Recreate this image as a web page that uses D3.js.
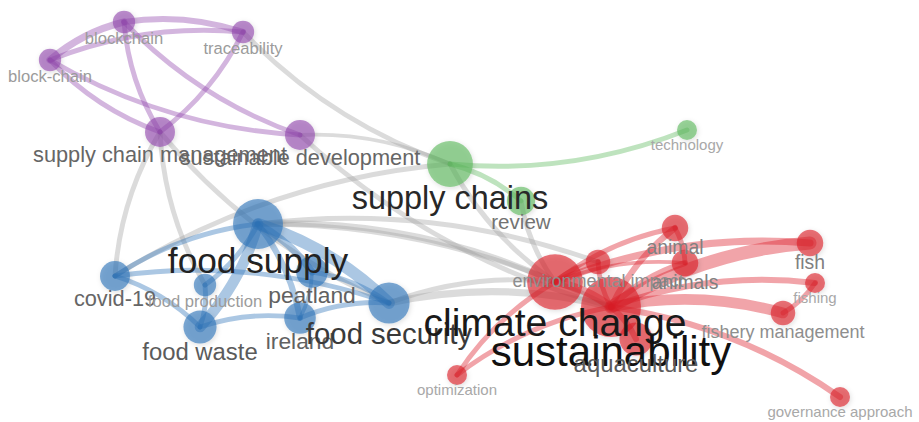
<!DOCTYPE html>
<html>
<head>
<meta charset="utf-8">
<script src="https://cdn.jsdelivr.net/npm/d3@7"></script>
<style>
    body { margin: 0; background: #fff; }
    .label { font-family: 'Liberation Sans', Arial, sans-serif; text-anchor: middle; }
</style>
</head>
<body>
<div class="keyword-map"></div>
<script>
// Map data (layout coordinates, occurrences, clusters).
let labels = ['blockchain', 'block-chain', 'traceability', 'supply chain management', 'sustainable development',
    'supply chains', 'review', 'technology',
    'food supply', 'covid-19', 'food production', 'food waste', 'peatland', 'ireland', 'food security',
    'climate change', 'sustainability', 'environmental impact', 'aquaculture', 'animal', 'animals',
    'fish', 'fishing', 'fishery management', 'optimization', 'governance approach'];

let clusters = [4, 4, 4, 4, 4,
    2, 2, 2,
    3, 3, 3, 3, 3, 3, 3,
    1, 1, 1, 1, 1, 1, 1, 1, 1, 1, 1];

let layoutX = [-3.21, -3.95, -2.02, -2.85, -1.45,
    0.05, 0.76, 2.42,
    -1.87, -3.30, -2.40, -2.45, -1.33, -1.45, -0.56,
    1.10, 1.66, 1.53, 1.91, 2.30, 2.40, 3.65, 3.70, 3.38, 0.12, 3.95];

let layoutY = [-1.88, -1.50, -1.78, -0.78, -0.75,
    -0.46, -0.09, -0.80,
    0.14, 0.66, 0.75, 1.17, 0.62, 1.08, 0.93,
    0.72, 0.97, 0.52, 1.29, 0.18, 0.53, 0.33, 0.73, 1.03, 1.65, 1.87];

let occurrences = [5, 5, 5, 9, 9,
    21, 8, 4,
    25, 9, 5, 11, 10, 10, 17,
    31, 36, 6, 11, 7, 7, 7, 4, 6, 4, 4];

// Links: [source, target, strength].
let links = [
    ['block-chain', 'blockchain', 5],
    ['block-chain', 'traceability', 3],
    ['blockchain', 'traceability', 4],
    ['supply chain management', 'block-chain', 3],
    ['sustainable development', 'block-chain', 3],
    ['supply chain management', 'blockchain', 3],
    ['sustainable development', 'blockchain', 3],
    ['traceability', 'supply chain management', 3],
    ['supply chains', 'traceability', 3],
    ['sustainability', 'sustainable development', 3],
    ['covid-19', 'supply chain management', 3],
    ['food production', 'supply chain management', 3],
    ['food security', 'supply chain management', 3],
    ['covid-19', 'supply chains', 3],
    ['sustainable development', 'supply chains', 2],
    ['climate change', 'supply chains', 3],
    ['climate change', 'review', 3],
    ['food supply', 'environmental impact', 3],
    ['food supply', 'climate change', 4],
    ['food supply', 'sustainability', 3],
    ['food security', 'sustainability', 5],
    ['food security', 'climate change', 3],
    ['technology', 'supply chains', 3],
    ['supply chains', 'review', 3],
    ['covid-19', 'food supply', 3],
    ['food supply', 'food waste', 8],
    ['food supply', 'food production', 3],
    ['food supply', 'peatland', 5],
    ['food supply', 'ireland', 4],
    ['food supply', 'food security', 9],
    ['covid-19', 'food waste', 3],
    ['covid-19', 'food security', 3],
    ['food production', 'food waste', 3],
    ['food waste', 'ireland', 3],
    ['ireland', 'food security', 3],
    ['peatland', 'food security', 3],
    ['peatland', 'ireland', 2],
    ['sustainability', 'fish', 10],
    ['climate change', 'fish', 5],
    ['sustainability', 'animals', 4],
    ['sustainability', 'animal', 4],
    ['climate change', 'animal', 3],
    ['climate change', 'animals', 2],
    ['sustainability', 'fishing', 4],
    ['sustainability', 'fishery management', 8],
    ['sustainability', 'governance approach', 4],
    ['optimization', 'sustainability', 3],
    ['optimization', 'climate change', 3],
    ['sustainability', 'aquaculture', 4],
    ['climate change', 'environmental impact', 4],
    ['sustainability', 'environmental impact', 3],
    ['climate change', 'sustainability', 6],
    ['animal', 'animals', 3],
    ['fishing', 'fishery management', 3]
];

// Build constants.
let width = 919,
    height = 422,
    bend = 0.12;

let clusterColor = {1: '#dc1c28', 2: '#5cb85c', 3: '#2c72b8', 4: '#9147ad'};

// Build nodes.
let nodes = labels.map((label, i) => ({
    id: label,
    cluster: clusters[i],
    vx: layoutX[i],
    vy: layoutY[i],
    weight: occurrences[i]
}));
let byId = new Map(nodes.map(d => [d.id, d]));

// Build scales.
let xScale = d3.scaleLinear().domain([-4.45, 4.74]).range([0, width]);
let yScale = d3.scaleLinear().domain([-2.10, 2.12]).range([0, height]);
let radiusScale = d3.scaleSqrt().domain([0, 36]).range([0, 30]);
let fontScale = d3.scaleLinear().domain([0, 30]).range([1.5, 42]);
let widthScale = d3.scaleLinear().domain([1, 10]).range([2.6, 13]);
let labelColor = d3.scaleLinear()
    .domain([4, 9, 20, 36])
    .range(['#a8a8a8', '#666666', '#2a2a2a', '#111111']);

nodes.forEach(d => {
    d.x = xScale(d.vx);
    d.y = yScale(d.vy);
    d.r = radiusScale(d.weight);
    d.font = fontScale(d.r);
});

// Build SVG.
let svg = d3.select('.keyword-map')
    .append('svg')
        .attr('width', width)
        .attr('height', height)
        .style('display', 'block');

let filter = svg.append('defs')
    .append('filter')
        .attr('id', 'shadow')
        .attr('x', '-50%').attr('y', '-50%')
        .attr('width', '200%').attr('height', '200%');
filter.append('feDropShadow')
    .attr('dx', 1)
    .attr('dy', 1.5)
    .attr('stdDeviation', 2.5)
    .attr('flood-color', '#000')
    .attr('flood-opacity', 0.2);

// Curved link path.
function curve(l) {
    let s = byId.get(l[0]), t = byId.get(l[1]);
    let mx = (s.x + t.x) / 2 + (t.y - s.y) * bend,
        my = (s.y + t.y) / 2 - (t.x - s.x) * bend;
    return `M${s.x},${s.y}Q${mx},${my} ${t.x},${t.y}`;
}

function sameCluster(l) {
    return byId.get(l[0]).cluster === byId.get(l[1]).cluster;
}

// Draw links, grey ones below.
let sorted = links.slice().sort((a, b) => sameCluster(a) - sameCluster(b));

svg.append('g')
    .selectAll('path')
    .data(sorted)
    .join('path')
        .attr('class', 'edge')
        .attr('d', curve)
        .attr('fill', 'none')
        .attr('stroke-linecap', 'round')
        .attr('stroke', d => sameCluster(d) ? clusterColor[byId.get(d[0]).cluster] : '#a0a0a0')
        .attr('stroke-opacity', d => sameCluster(d) ? 0.4 : 0.38)
        .attr('stroke-width', d => widthScale(d[2]));

// Draw nodes.
svg.append('g')
    .selectAll('circle')
    .data(nodes)
    .join('circle')
        .attr('class', 'node')
        .attr('cx', d => d.x)
        .attr('cy', d => d.y)
        .attr('r', d => d.r)
        .attr('fill', d => clusterColor[d.cluster])
        .attr('fill-opacity', 0.62)
        .attr('filter', 'url(#shadow)');

// Write labels.
svg.append('g')
    .selectAll('text')
    .data(nodes)
    .join('text')
        .attr('class', 'label')
        .attr('x', d => d.x)
        .attr('y', d => d.y + d.r + d.font * 0.68)
        .attr('font-size', d => d.font)
        .attr('fill', d => labelColor(d.weight))
        .text(d => d.id);
</script>
</body>
</html>
